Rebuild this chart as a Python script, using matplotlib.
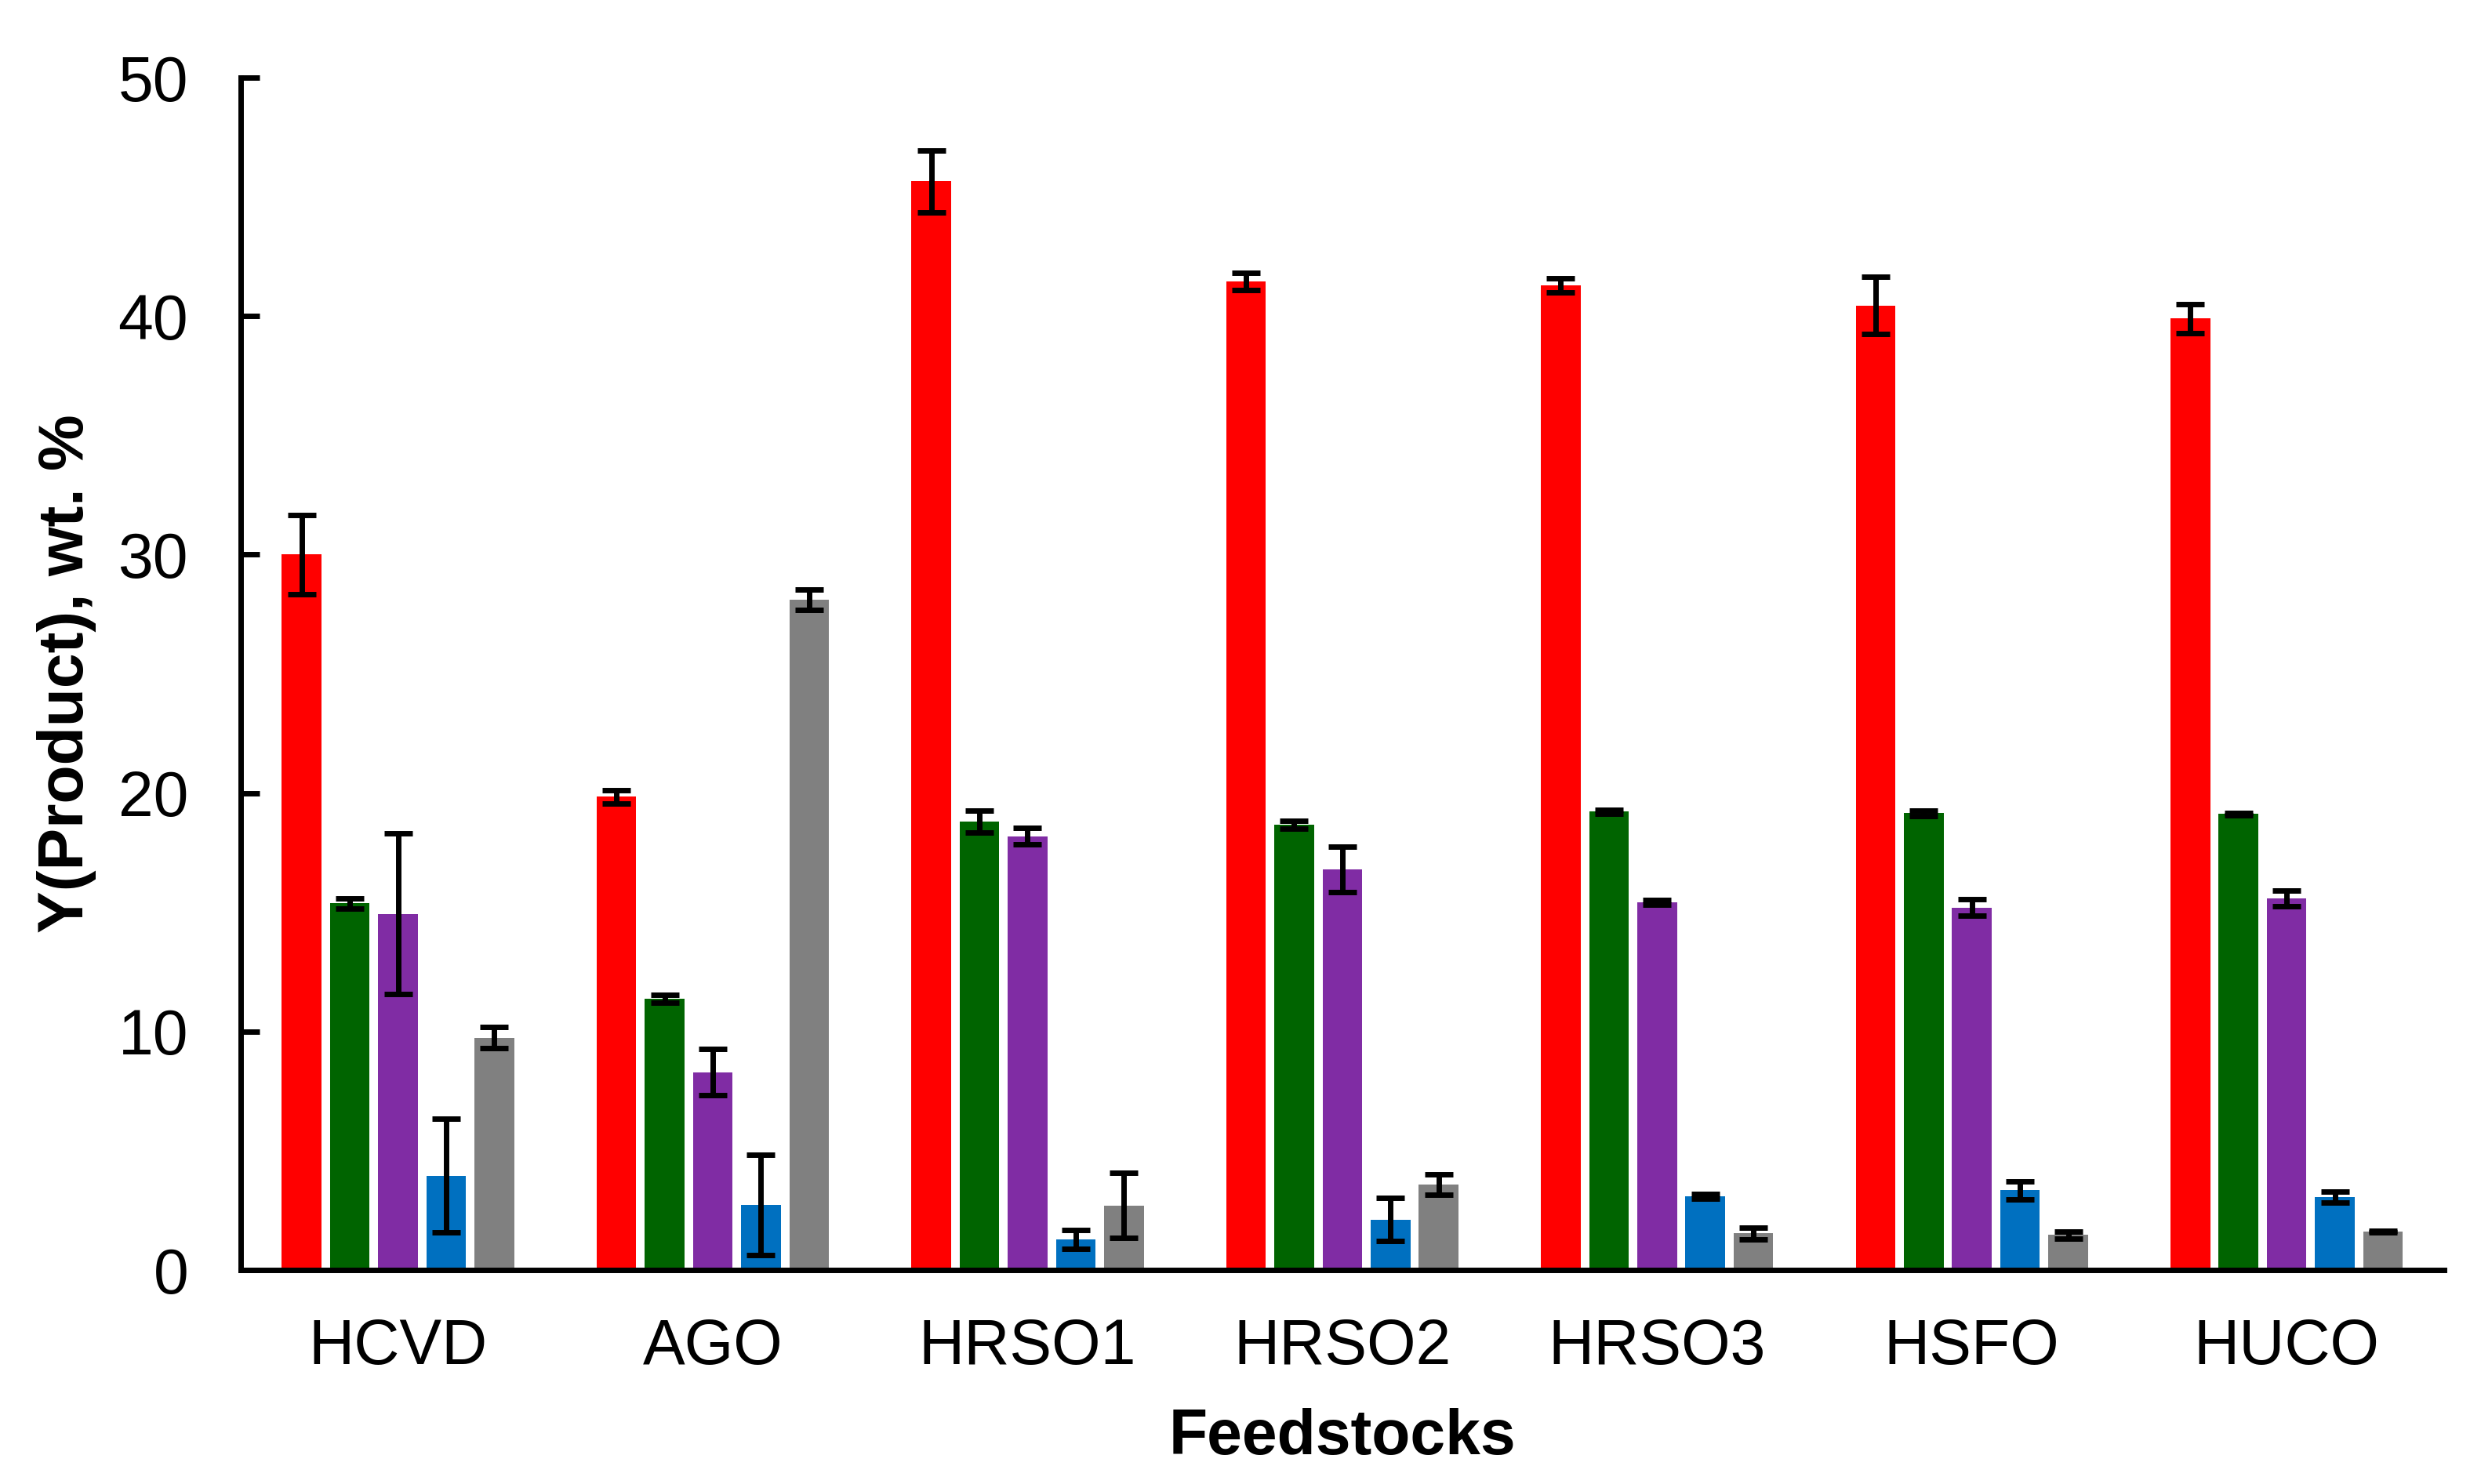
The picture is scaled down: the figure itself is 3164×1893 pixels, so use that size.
import matplotlib
matplotlib.use("Agg")
import matplotlib.pyplot as plt
import numpy as np

plt.rcParams['font.family'] = ['Liberation Sans', 'DejaVu Sans']

feedstocks = ["HCVD", "AGO", "HRSO1", "HRSO2", "HRSO3", "HSFO", "HUCO"]

red_vals = [30.0, 19.85, 45.65, 41.45, 41.3, 40.45, 39.9]
red_err = [1.65, 0.28, 1.3, 0.36, 0.3, 1.2, 0.6]
green_vals = [15.37, 11.37, 18.81, 18.68, 19.22, 19.15, 19.12]
green_err = [0.2, 0.17, 0.45, 0.17, 0.08, 0.1, 0.05]
purple_vals = [14.93, 8.30, 18.19, 16.79, 15.42, 15.2, 15.58]
purple_err = [3.37, 0.97, 0.35, 0.96, 0.1, 0.34, 0.33]
blue_vals = [3.96, 2.73, 1.28, 2.11, 3.09, 3.34, 3.06]
blue_err = [2.38, 2.1, 0.4, 0.9, 0.1, 0.38, 0.23]
gray_vals = [9.74, 28.1, 2.71, 3.59, 1.53, 1.47, 1.61]
gray_err = [0.45, 0.42, 1.37, 0.42, 0.25, 0.15, 0.03]

series = [
    (red_vals, red_err, "#FF0000"),
    (green_vals, green_err, "#006400"),
    (purple_vals, purple_err, "#802CA4"),
    (blue_vals, blue_err, "#0070C0"),
    (gray_vals, gray_err, "#808080"),
]

fig = plt.figure(figsize=(15.82, 9.465), dpi=200)
ax = fig.add_axes([0.0970, 0.1442, 0.8881, 0.8035])

x = np.arange(len(feedstocks))
pitch = 0.153
width = 0.126
n = len(series)
for i, (vals, errs, col) in enumerate(series):
    off = (i - (n - 1) / 2) * pitch
    ax.bar(x + off, vals, width=width, color=col, zorder=2)
    ax.errorbar(x + off, vals, yerr=errs, fmt='none', ecolor='black',
                elinewidth=2.5, capsize=6.5, capthick=2.5, zorder=3)

ax.set_xlim(-0.5, len(feedstocks) - 0.5)
ax.set_ylim(0, 50)
ax.set_yticks([0, 10, 20, 30, 40, 50])
ax.set_xticks(x)
ax.set_xticklabels(feedstocks)

for s in ['top', 'right']:
    ax.spines[s].set_visible(False)
for s in ['left', 'bottom']:
    ax.spines[s].set_linewidth(2.5)

ax.tick_params(axis='y', direction='in', length=8.5, width=2.5, labelsize=29, pad=24)
ax.tick_params(axis='x', length=0, labelsize=29, pad=22)

ax.set_xlabel("Feedstocks", fontsize=29, fontweight='bold', labelpad=14)
ax.set_ylabel("Y(Product), wt. %", fontsize=29, fontweight='bold', labelpad=10)

fig.savefig("out.png", dpi=200)
